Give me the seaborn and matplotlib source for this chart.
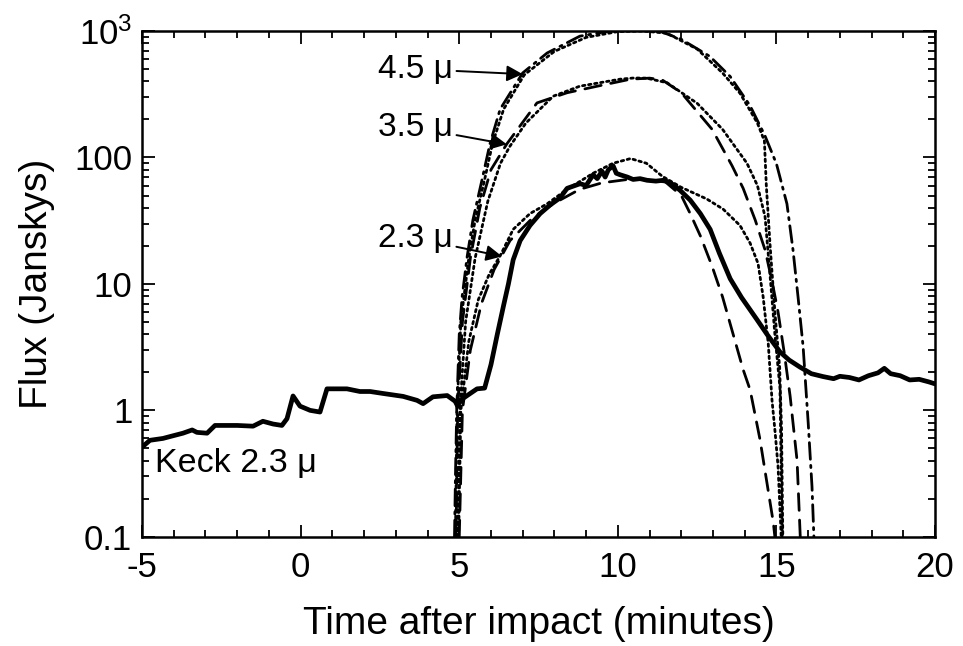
"""
Keck 2.3 micron light curve vs model fluxes
"""

import numpy as np
import pandas as pd
import matplotlib
matplotlib.use("Agg")
import matplotlib.pyplot as plt
import seaborn as sns

# Keck 2.3 micron observation
keck_t = [-4.97, -4.75, -4.34, -4.02, -3.71, -3.42, -3.27, -2.95, -2.70, -2.32, -2.0, -1.5,
          -1.19, -0.87, -0.59, -0.43, -0.24, -0.02, 0.30, 0.61, 0.83, 1.15, 1.46, 1.87, 2.19,
          2.60, 3.23, 3.67, 3.86, 4.17, 4.62, 4.87, 4.95, 5.03, 5.25, 5.56, 5.8, 6.0, 6.2,
          6.4, 6.55, 6.7, 6.92, 7.23, 7.55, 7.86, 8.18, 8.4, 8.81, 9.0, 9.22, 9.35, 9.5, 9.6,
          9.7, 9.85, 9.95, 10.07, 10.3, 10.48, 10.7, 10.92, 11.2, 11.43, 11.6, 11.74, 11.96,
          12.28, 12.6, 12.91, 13.2, 13.54, 13.9, 14.39, 14.7, 15.11, 15.4, 15.74, 16.1, 16.47,
          16.8, 17.0, 17.3, 17.6, 17.9, 18.2, 18.4, 18.6, 18.9, 19.2, 19.5, 19.8, 20.0]
keck_flux = [0.52, 0.58, 0.60, 0.63, 0.66, 0.70, 0.67, 0.66, 0.76, 0.76, 0.76, 0.75,
             0.82, 0.78, 0.76, 0.86, 1.30, 1.08, 1.0, 0.97, 1.48, 1.48, 1.48, 1.41, 1.41,
             1.36, 1.29, 1.20, 1.13, 1.28, 1.31, 1.18, 1.08, 1.20, 1.31, 1.48, 1.50, 2.3, 4.0,
             6.8, 10.0, 15.5, 22.0, 29.0, 36.0, 42.0, 48.0, 57.0, 62.0, 60.0, 73.0, 68.0, 78.0, 70.0,
             80.0, 86.0, 75.0, 73.0, 70.0, 67.0, 68.0, 66.0, 65.0, 66.0, 64.0, 61.0, 55.0,
             46.0, 36.0, 27.0, 17.5, 11.0, 7.8, 5.2, 4.0, 2.9, 2.5, 2.2, 1.95, 1.85,
             1.78, 1.86, 1.82, 1.74, 1.88, 1.98, 2.15, 1.95, 1.88, 1.74, 1.76, 1.68, 1.62]

# 4.5 micron models
m45a_t = [4.85, 4.88, 4.92, 5.0, 5.09, 5.25, 5.43, 5.72, 5.97, 6.29, 7.0, 7.77, 8.8, 9.85,
          10.5, 11.3, 12.0, 12.9, 13.54, 14.17, 14.64, 15.0, 15.33, 15.52, 15.68, 15.84,
          16.0, 16.12, 16.18]
m45a_f = [0.1, 0.3, 1.0, 4.0, 7.9, 16.5, 32, 67, 129, 241, 466, 670, 910, 1010,
          1040, 1000, 860, 630, 437, 256, 148, 89, 43, 18.7, 7.9, 3.2,
          0.8, 0.25, 0.1]
m45b_t = [4.88, 4.93, 5.05, 5.3, 5.5, 5.8, 6.05, 6.4, 7.05, 8.0, 9.0, 10.0, 10.8, 11.55,
          12.5, 13.3, 13.85, 14.4, 14.62, 14.68, 14.8, 14.95, 15.1, 15.16, 15.2]
m45b_f = [0.1, 1.0, 5.0, 16, 32, 67, 129, 241, 450, 690, 890, 990, 1000, 960,
          720, 466, 322, 187, 135, 60, 20, 6.0, 2.2, 0.7, 0.1]

# 3.5 micron models
m35a_t = [4.9, 4.95, 5.1, 5.35, 5.65, 6.0, 6.5, 7.45, 8.4, 9.35, 10.4, 11.0, 11.4, 12.0,
          12.97, 13.6, 13.95, 14.33, 14.64, 14.86, 15.05, 15.25, 15.43, 15.65, 15.75]
m35a_f = [0.1, 1.0, 5.0, 16, 40, 80, 128, 270, 325, 366, 416, 424, 410, 325,
          167, 86, 57, 32, 18.6, 10.5, 6.0, 2.8, 1.3, 0.4, 0.1]
m35b_t = [4.95, 5.02, 5.2, 5.5, 5.9, 6.3, 6.6, 7.1, 7.96, 8.8, 10.07, 10.5, 10.9, 11.55,
          12.5, 13.3, 14.07, 14.4, 14.64, 14.8, 14.95, 15.11, 15.18]
m35b_f = [0.1, 1.0, 5.0, 16, 45, 90, 123, 187, 305, 366, 416, 425, 424, 390,
          268, 167, 90, 60, 34, 11.5, 4.0, 1.5, 0.1]

# 2.3 micron models
m23a_t = [5.0, 5.1, 5.35, 5.7, 6.1, 6.6, 7.3, 7.96, 8.8, 9.5, 10.5, 11.5, 12.0, 12.28,
          12.6, 12.97, 13.3, 13.95, 14.17, 14.48, 14.9, 14.95]
m23a_f = [0.1, 1.0, 3.0, 7.0, 13, 22, 33, 43, 56, 63, 68, 64, 50, 36,
          24, 13.8, 7.9, 2.1, 1.45, 0.59, 0.13, 0.1]
m23b_t = [4.98, 5.05, 5.3, 5.6, 5.95, 6.29, 6.7, 7.23, 7.77, 8.4, 9.22, 9.85, 10.4, 10.9,
          11.4, 12.0, 12.8, 13.32, 13.85, 14.17, 14.42, 14.58, 14.74, 14.86, 14.96, 15.05,
          15.1, 15.15]
m23b_f = [0.1, 1.0, 3.5, 7.5, 12, 16.7, 27, 36, 43, 56, 75, 90, 98, 90,
          71, 58, 47, 39, 29, 21, 14.5, 7.9, 3.4, 1.2, 0.66, 0.36,
          0.19, 0.1]

sns.set_style("ticks")
plt.rcParams["font.family"] = ["Liberation Sans", "DejaVu Sans"]
plt.rcParams["mathtext.default"] = "regular"
plt.rcParams["axes.unicode_minus"] = False
for k in ["text.color", "axes.labelcolor", "xtick.color", "ytick.color", "axes.edgecolor"]:
    plt.rcParams[k] = "black"

fig = plt.figure(figsize=(9.63, 6.46), dpi=100)
ax = fig.add_axes([0.1475, 0.169, 0.8235, 0.783])

dash = (6, 3.5)
dashdot = (6, 2.2, 0.8, 2.2)
dot = (0.9, 1.3)

models = [
    (m45a_t, m45a_f, dashdot),
    (m45b_t, m45b_f, dot),
    (m35a_t, m35a_f, dash),
    (m35b_t, m35b_f, dot),
    (m23a_t, m23a_f, dash),
    (m23b_t, m23b_f, dot),
]
for t, f, pat in models:
    sns.lineplot(x=t, y=f, ax=ax, color="black", lw=2.0)
    ax.lines[-1].set_dashes(pat)
    ax.lines[-1].set_dash_capstyle("round")

sns.lineplot(x=keck_t, y=keck_flux, ax=ax, color="black", lw=3.4)

ax.set_yscale("log")
ax.set_xlim(-5, 20)
ax.set_ylim(0.1, 1000)
ax.set_xticks([-5, 0, 5, 10, 15, 20])
ax.set_xticks(np.arange(-5, 21, 1), minor=True)
ax.set_yticks([0.1, 1, 10, 100, 1000])
ax.set_yticklabels(["0.1", "1", "10", "100", "$10^3$"])
ax.tick_params(which="both", direction="in", top=True, right=True, width=1.3,
               labelsize=25)
ax.tick_params(which="major", length=9)
ax.tick_params(which="minor", length=5)
ax.tick_params(axis="x", pad=10)
ax.tick_params(axis="y", pad=7)
for s in ax.spines.values():
    s.set_linewidth(1.8)

ax.set_xlabel("Time after impact (minutes)", fontsize=28, labelpad=16)
ax.set_ylabel("Flux (Janskys)", fontsize=28, labelpad=14)

arrow = dict(arrowstyle="-|>", color="black", lw=1.4, mutation_scale=24,
             shrinkA=0, shrinkB=0)
ax.annotate("4.5 μ", xy=(7.0, 456), xytext=(2.45, 500), fontsize=24,
            va="center", arrowprops=arrow)
ax.annotate("3.5 μ", xy=(6.5, 127), xytext=(2.45, 172), fontsize=24,
            va="center", arrowprops=arrow)
ax.annotate("2.3 μ", xy=(6.35, 16.5), xytext=(2.45, 23), fontsize=24,
            va="center", arrowprops=arrow)
ax.text(-4.6, 0.38, "Keck 2.3 μ", fontsize=24.5, va="center")

fig.savefig("out.png", dpi=100)
